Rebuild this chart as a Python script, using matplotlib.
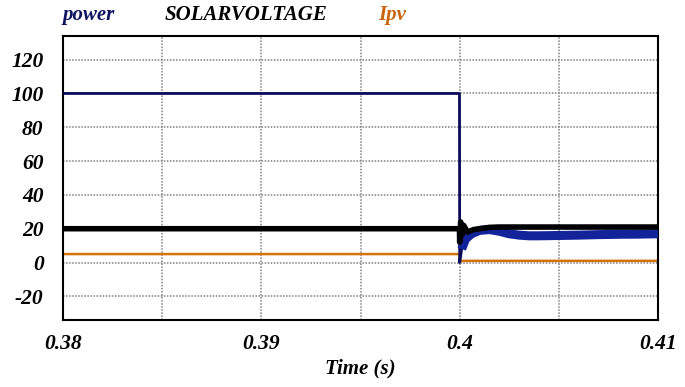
import matplotlib
matplotlib.use("Agg")
import matplotlib.pyplot as plt
from matplotlib.ticker import MultipleLocator

power_t = [0.38, 0.39999, 0.4, 0.4001, 0.4003, 0.4006, 0.401, 0.4015, 0.402, 0.4025, 0.403, 0.4035, 0.404, 0.405, 0.406, 0.407, 0.408, 0.409, 0.41]
power_v = [100, 100, 0, 8, 14, 17, 19, 19.5, 18.5, 17, 16.2, 15.8, 15.8, 16, 16.2, 16.5, 16.7, 16.8, 17]

volt_t = [0.38, 0.39999, 0.4, 0.40005, 0.4001, 0.4002, 0.4004, 0.4007, 0.401, 0.4015, 0.402, 0.403, 0.405, 0.41]
volt_v = [20, 20, 12, 24, 16, 22, 18, 19.5, 20, 20.8, 21, 21, 21, 21]

ipv_t = [0.38, 0.39999, 0.4, 0.4001, 0.41]
ipv_v = [5, 5, 0.5, 1, 1]

x_ticks = [0.38, 0.39, 0.40, 0.41]
x_labels = ["0.38", "0.39", "0.4", "0.41"]
y_ticks = [-20, 0, 20, 40, 60, 80, 100, 120]
y_labels = ["-20", "0", "20", "40", "60", "80", "100", "120"]

fig = plt.figure(figsize=(6.85, 3.87), dpi=100)
ax = fig.add_axes([63/685, 1 - 320/387, (658 - 63)/685, (320 - 36)/387])

font = dict(family="Liberation Serif", weight="bold", style="italic")

ax.plot(power_t, power_v, color="#0b0b5c", lw=2.0, zorder=3)
ax.plot(power_t[3:], power_v[3:], color="#13239a", lw=6.5, zorder=3, solid_capstyle="butt")
ax.plot(volt_t, volt_v, color="black", lw=4.0, zorder=4)
ax.plot(ipv_t, ipv_v, color="#d4730a", lw=1.8, zorder=2)

ax.set_xlim(0.38, 0.41)
ax.set_ylim(-34, 134)
ax.xaxis.set_minor_locator(MultipleLocator(0.005))
ax.grid(True, which="both", axis="x", color="#808080", ls=(0, (1, 1)), lw=1.1)
ax.grid(True, which="major", axis="y", color="#808080", ls=(0, (1, 1)), lw=1.1)
ax.set_xticks(x_ticks)
ax.set_xticklabels(x_labels)
ax.set_yticks(y_ticks)
ax.set_yticklabels(y_labels)
ax.tick_params(which="both", length=0)
ax.tick_params(axis="y", pad=14)
ax.tick_params(axis="x", pad=10)
for lab in ax.get_xticklabels() + ax.get_yticklabels():
    lab.set_fontfamily("Liberation Serif")
    lab.set_fontweight("bold")
    lab.set_fontstyle("italic")
    lab.set_fontsize(15.5)
ax.set_xlabel("Time (s)", fontsize=15, labelpad=3, **font)
for s in ax.spines.values():
    s.set_linewidth(1.5)
    s.set_color("black")

fig.text(62/685, 1 - 15/387, "power", color="#0d1560", fontsize=15, va="center", ha="left", **font)
fig.text(165/685, 1 - 15/387, "SOLARVOLTAGE", color="black", fontsize=15, va="center", ha="left", **font)
fig.text(378/685, 1 - 15/387, "Ipv", color="#c8650a", fontsize=15, va="center", ha="left", **font)

fig.savefig("out.png", dpi=100)
